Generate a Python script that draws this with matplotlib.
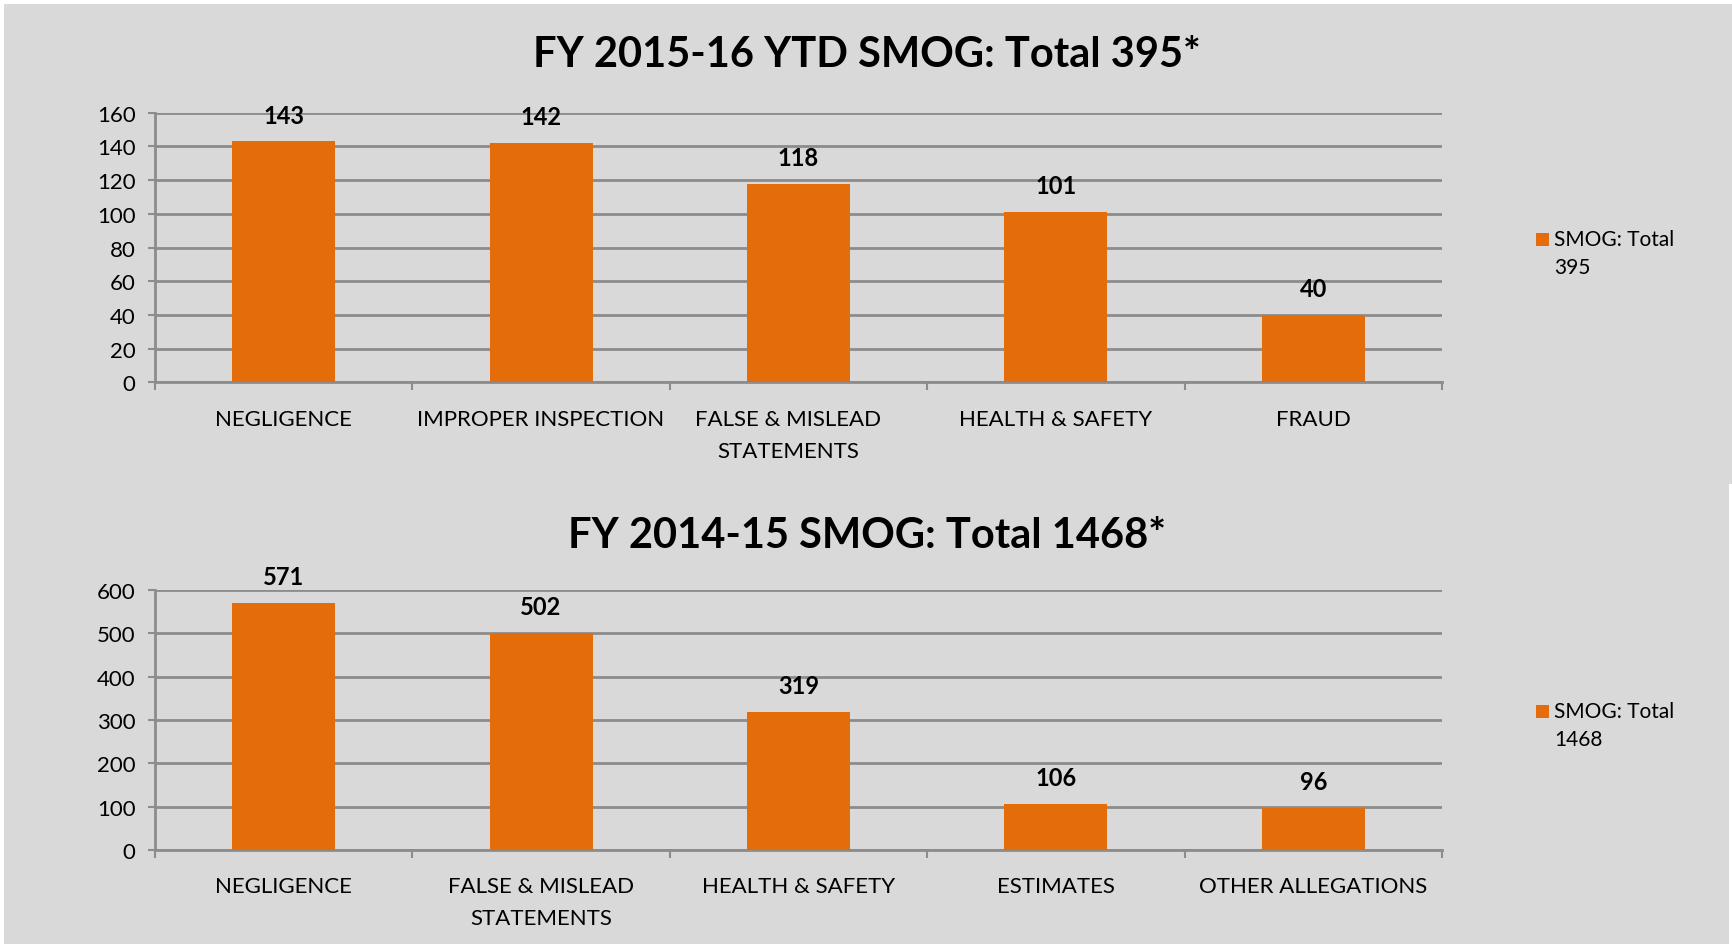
import matplotlib.pyplot as plt
import numpy as np
from matplotlib.patches import Rectangle
from matplotlib.transforms import ScaledTranslation

plt.rcParams['font.family'] = ['Lato', 'DejaVu Sans']

# данные верхнего графика (FY 2015-16)
cats_top = ['NEGLIGENCE', 'IMPROPER INSPECTION', 'FALSE & MISLEAD\nSTATEMENTS',
            'HEALTH & SAFETY', 'FRAUD']
vals_top = [143, 142, 118, 101, 40]
total_top = 395

# данные нижнего графика (FY 2014-15)
cats_bot = ['NEGLIGENCE', 'FALSE & MISLEAD\nSTATEMENTS', 'HEALTH & SAFETY',
            'ESTIMATES', 'OTHER ALLEGATIONS']
vals_bot = [571, 502, 319, 106, 96]
total_bot = 1468

bar_color = '#E46C0A'
bg = '#D9D9D9'
grid_c = '#8C8C8C'

W, H = 1733, 945
fig = plt.figure(figsize=(W / 100, H / 100), dpi=100, facecolor='white')

# серый фон панелей
fig.patches.append(Rectangle((4 / W, 1 - 485 / H), 1 - 4 / W, (485 - 5) / H,
                             transform=fig.transFigure, facecolor=bg, edgecolor='none', zorder=-10))
fig.patches.append(Rectangle((4 / W, 0), 1 - 8 / W, 1 - 485 / H,
                             transform=fig.transFigure, facecolor=bg, edgecolor='none', zorder=-10))


def draw_panel(rect, cats, vals, ymax, ystep, title, title_y, total, leg_y, shift=None):
    ax = fig.add_axes(rect)
    ax.set_facecolor('none')
    x = np.arange(len(cats))
    ax.bar(x, vals, width=0.4, color=bar_color, zorder=3)
    ax.set_xlim(-0.5, len(cats) - 0.5)
    ax.set_ylim(0, ymax)
    ax.set_yticks(np.arange(0, ymax + 1, ystep))
    ax.set_xticks(x)
    ax.set_xticklabels(cats, fontsize=16, linespacing=1.75)
    ax.set_xticks(np.arange(-0.5, len(cats), 1), minor=True)
    ax.tick_params(axis='x', which='major', length=0, pad=19)
    ax.tick_params(axis='x', which='minor', length=6, width=1.5, color=grid_c)
    ax.tick_params(axis='y', length=5, width=1.5, color=grid_c, labelsize=16, pad=9)
    ax.grid(axis='y', color=grid_c, linewidth=2, zorder=0)
    for s in ['top', 'right']:
        ax.spines[s].set_visible(False)
    for s in ['left', 'bottom']:
        ax.spines[s].set_color(grid_c)
        ax.spines[s].set_linewidth(2)
    # сдвиг подписи с переносом (как в Excel)
    if shift is not None:
        lbl = ax.get_xticklabels()[shift]
        lbl.set_transform(lbl.get_transform() + ScaledTranslation(-0.1, 0, fig.dpi_scale_trans))
    for xi, v in zip(x, vals):
        ax.annotate(str(v), (xi, v), xytext=(0, 19), textcoords='offset points',
                    ha='center', va='center', fontsize=17, fontweight='bold')
    fig.text(0.5005, title_y, title, ha='center', va='center', fontsize=30, fontweight='bold')
    # легенда
    fig.patches.append(Rectangle((1536 / W, leg_y - 7 / H), 13 / W, 13 / H,
                                 transform=fig.transFigure, facecolor=bar_color, edgecolor='none'))
    fig.text(1554 / W, leg_y, 'SMOG: Total', ha='left', va='center', fontsize=15)
    fig.text(1554 / W, leg_y - 28 / H, str(total), ha='left', va='center', fontsize=15)
    return ax


draw_panel([0.0894, 0.5943, 0.7427, 0.2853], cats_top, vals_top, 160, 20,
           'FY 2015-16 YTD SMOG: Total 395*', 0.942, total_top, 0.746, shift=2)
draw_panel([0.0894, 0.0996, 0.7427, 0.2748], cats_bot, vals_bot, 600, 100,
           'FY 2014-15 SMOG: Total 1468*', 0.433, total_bot, 0.247)

fig.savefig('out.png', dpi=100, facecolor='white')
